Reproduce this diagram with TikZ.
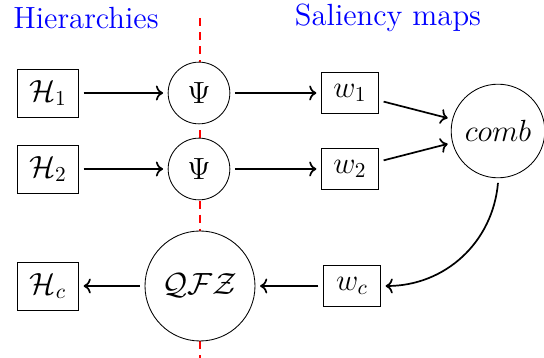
\documentclass[tikz,border=0pt]{standalone}
\usepackage{amsmath,amssymb}
\usetikzlibrary{arrows.meta,positioning}

\begin{document}
\begin{tikzpicture}[
  x=0.47pt, y=-0.47pt,
  font=\Large,
  hbox/.style={draw, fill=white, minimum width=28.7pt, minimum height=22.6pt, inner sep=2pt, outer sep=2.4pt},
  wbox/.style={draw, fill=white, minimum width=26.8pt, minimum height=19pt, inner sep=2pt, outer sep=2.4pt},
  op/.style={draw, circle, fill=white, inner sep=1pt, outer sep=2.4pt},
  arr/.style={->, thick},
  title/.style={text=blue}
]
\useasboundingbox (0,0) rectangle (544,358);
% separator
\draw[red, thick, dash pattern=on 3.8pt off 2.8pt] (200,18) -- (200,358);
\node[title] (hier) at (86,18) {Hierarchies};
\node[title] (sal) at (388,18) {Saliency maps};
% inputs
\node[hbox] (h1) at (48,93) {$\mathcal{H}_1$};
\node[hbox] (h2) at (48,169) {$\mathcal{H}_2$};
\node[hbox] (hc) at (48,286) {$\mathcal{H}_c$};
\node[op, minimum size=29pt] (psi1) at (199,93) {$\Psi$};
\node[op, minimum size=29pt] (psi2) at (199,169) {$\Psi$};
\node[op, minimum size=51.7pt] (qfz) at (200,286) {$\mathcal{QFZ}$};
% saliency maps
\node[wbox] (w1) at (350,93) {$w_1$};
\node[wbox] (w2) at (350,169) {$w_2$};
\node[wbox] (wc) at (352,286) {$w_c$};
\node[op, minimum size=44pt] (comb) at (498,131) {$comb$};
\draw[arr] (h1) -- (psi1);
\draw[arr] (h2) -- (psi2);
\draw[arr] (psi1) -- (w1);
\draw[arr] (psi2) -- (w2);
\draw[arr] (w1) -- (comb);
\draw[arr] (w2) -- (comb);
\draw[arr] (comb.south) to[out=-95, in=0] (wc.east);
\draw[arr] (wc) -- (qfz);
\draw[arr] (qfz) -- (hc);
\end{tikzpicture}
\end{document}
